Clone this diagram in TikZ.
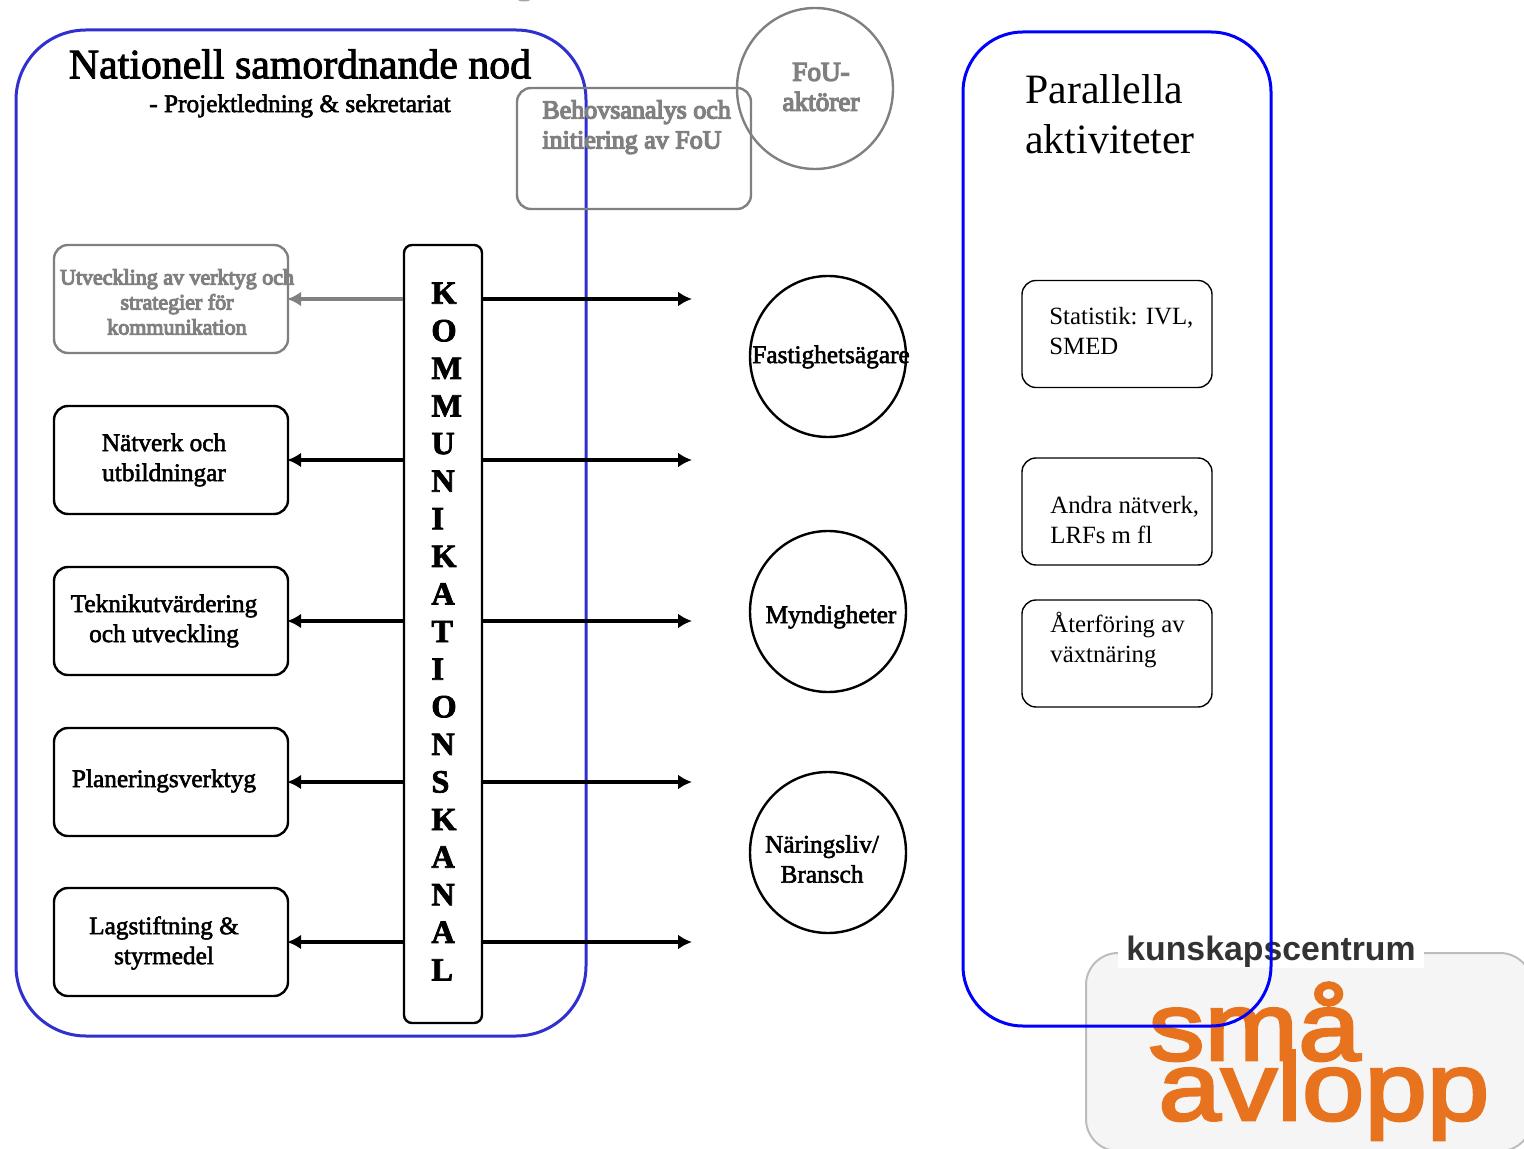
\documentclass[tikz,border=0pt]{standalone}
\usepackage{fontspec}
\setmainfont{Liberation Serif}
\newfontfamily\tjockfont[FakeBold=2.2]{Liberation Serif}
\newfontfamily\graafont[FakeBold=5]{Liberation Serif}
\newfontfamily\logofont{Liberation Sans}
\newfontfamily\logobigfont[FakeBold=3,FakeStretch=1.17]{Liberation Sans}
\usetikzlibrary{shapes.geometric, arrows.meta}
\definecolor{ramblue}{HTML}{3030D0}
\definecolor{logoorange}{HTML}{E8731E}
\definecolor{logoback}{HTML}{F5F5F5}
\definecolor{logoline}{HTML}{BDBDBD}
\begin{document}
\begin{tikzpicture}[x=0.5pt, y=-0.5pt]
        \useasboundingbox (0,0) rectangle (1524,1149);
        \tikzstyle{box}=[draw, rectangle, rounded corners=7pt, line width=1.2pt, inner sep=0pt, minimum width=117pt, minimum height=54pt]
        \tikzstyle{rightbox}=[box, line width=0.7pt, minimum width=95pt, minimum height=53.5pt]
        \tikzstyle{actor}=[draw, ellipse, line width=1.2pt, inner sep=0pt, minimum width=78pt, minimum height=80.5pt]
        \tikzstyle{txt}=[font=\tjockfont\fontsize{12.65}{15}\selectfont, align=center, inner sep=0pt]
        \tikzstyle{graytxt}=[text=gray, align=center, inner sep=0pt, font=\graafont\fontsize{13}{15}\selectfont]
        \tikzstyle{plain}=[font=\fontsize{12.4}{15}\selectfont, align=left, inner sep=0pt]
        \tikzstyle{arrow}=[-{Latex[length=7pt, width=7.5pt]}, line width=1.6pt, shorten >=-1pt]

        % logo
        \path[clip] (0,0) rectangle (1524,1149);
        \fill[gray!70] (524,0) ellipse (6 and 1.5);
        \draw[draw=logoline, fill=logoback, line width=1pt, rounded corners=16pt] (1086,953) rectangle (1532,1151);
        \node (logotxt) [fill=white, inner xsep=4pt, inner ysep=0pt, font=\logofont\bfseries\fontsize{16.9}{18}\selectfont, text=black!80] at (1271,952) {kunskapscentrum};
        \node (smaa) [font=\logobigfont\fontsize{48}{48}\selectfont, text=logoorange, inner sep=0pt, anchor=base west] at (1148,1060) {små};
        \node (avlopp) [font=\logobigfont\fontsize{48}{48}\selectfont, text=logoorange, inner sep=0pt, anchor=base west] at (1158,1120) {avlopp};

        % frames
        \node (nod) [draw=ramblue, rectangle, rounded corners=35pt, line width=1.5pt, inner sep=0pt, minimum width=285pt, minimum height=503pt] at (301,533) {};
        \node (parallella) [draw=blue, rectangle, rounded corners=30pt, line width=1.5pt, inner sep=0pt, minimum width=154pt, minimum height=497pt] at (1117,529) {};
        \node (nodtitle) [inner sep=0pt, font=\tjockfont\fontsize{20.9}{24}\selectfont] at (300,64) {Nationell samordnande nod};
        \node (nodsub) [txt] at (300,106) {- Projektledning \& sekretariat};
        \node (partitle) [plain, anchor=north west, font=\fontsize{20.9}{25}\selectfont] at (1025,74) {Parallella\\aktiviteter};

        % grey part
        \node (behov) [box, draw=gray, minimum height=60.5pt] at (634,148.5) {};
        \node (behovtxt) [graytxt, align=left, anchor=north west] at (542,100) {Behovsanalys och\\initiering av FoU};
        \node (fou) [actor, draw=gray] at (815,88.5) {};
        \node (foutxt) [graytxt, font=\graafont\fontsize{13.6}{15}\selectfont] at (821,87) {FoU-\\aktörer};

        % left column
        \node (verktyg) [box, draw=gray] at (171,299) {};
        \node (natverk) [box] at (171,460) {};
        \node (teknik) [box] at (171,621) {};
        \node (planering) [box] at (171,782) {};
        \node (lag) [box] at (171,942) {};
        \node [graytxt, font=\graafont\fontsize{11}{12.5}\selectfont] at (177,302) {Utveckling av verktyg och\\strategier för\\kommunikation};
        \node [txt] at (164,460) {Nätverk och\\utbildningar};
        \node [txt] at (164,621) {Teknikutvärdering\\och utveckling};
        \node [txt] at (164,781) {Planeringsverktyg};
        \node [txt] at (164,943) {Lagstiftning \&\\styrmedel};

        % channel
        \node (kanal) [box, minimum width=39pt, minimum height=389pt, rounded corners=4pt] at (443,634) {};
        \node (kanaltxt) [txt, align=left, anchor=west, font=\tjockfont\bfseries\fontsize{16.2}{18.8}\selectfont] at (431,631.5) {K\\O\\M\\M\\U\\N\\I\\K\\A\\T\\I\\O\\N\\S\\K\\A\\N\\A\\L};

        % circles
        \node (fastighet) [actor] at (828,356.5) {};
        \node (myndighet) [actor] at (828,611.5) {};
        \node (naring) [actor] at (828,852.5) {};
        \node [txt] at (831,357) {Fastighetsägare};
        \node [txt] at (831,617) {Myndigheter};
        \node [txt] at (822,859) {Näringsliv/\\Bransch};

        % right boxes
        \node (statistik) [rightbox] at (1117,334) {};
        \node (andra) [rightbox] at (1117,511.5) {};
        \node (aterforing) [rightbox] at (1117,653.5) {};
        \node [plain, anchor=north west] at (1049,307) {Statistik: IVL,\\SMED};
        \node [plain, anchor=north west] at (1050,496) {Andra nätverk,\\LRFs m fl};
        \node [plain, anchor=north west] at (1050,612) {Återföring av\\växtnäring};

        % free ends of the right arrows
        \coordinate (ut1) at (690,299);
        \coordinate (ut2) at (690,460);
        \coordinate (ut3) at (690,621);
        \coordinate (ut4) at (690,782);
        \coordinate (ut5) at (690,942);

        \draw[arrow, gray] (kanal.west |- verktyg.east) -- (verktyg.east);
        \draw[arrow] (kanal.west |- natverk.east) -- (natverk.east);
        \draw[arrow] (kanal.west |- teknik.east) -- (teknik.east);
        \draw[arrow] (kanal.west |- planering.east) -- (planering.east);
        \draw[arrow] (kanal.west |- lag.east) -- (lag.east);

        \draw[arrow] (kanal.east |- ut1) -- (ut1);
        \draw[arrow] (kanal.east |- ut2) -- (ut2);
        \draw[arrow] (kanal.east |- ut3) -- (ut3);
        \draw[arrow] (kanal.east |- ut4) -- (ut4);
        \draw[arrow] (kanal.east |- ut5) -- (ut5);
\end{tikzpicture}
\end{document}
